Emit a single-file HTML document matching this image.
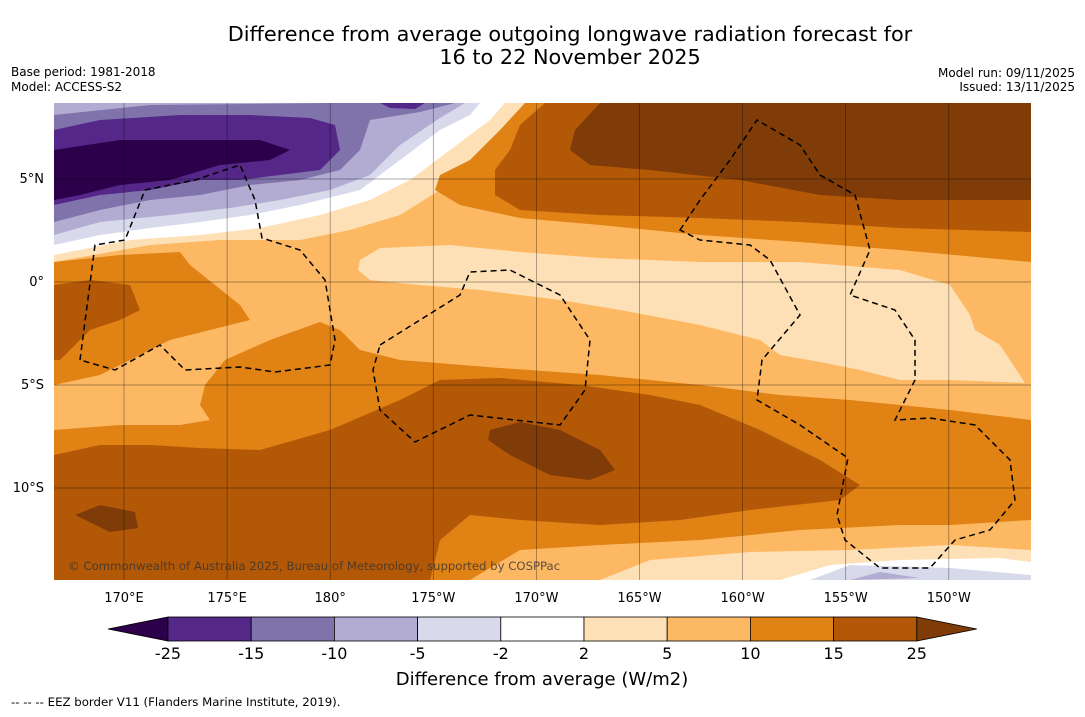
<!DOCTYPE html>
<html><head><meta charset="utf-8"><style>
body{margin:0;background:#fff;width:1085px;height:713px;overflow:hidden;font-family:"DejaVu Sans",sans-serif}
</style></head><body>
<svg width="1085" height="713" xmlns="http://www.w3.org/2000/svg" font-family="DejaVu Sans, sans-serif">
<text x="570" y="41" font-size="20.8" text-anchor="middle">Difference from average outgoing longwave radiation forecast for</text>
<text x="570" y="64" font-size="20.8" text-anchor="middle">16 to 22 November 2025</text>
<text x="11" y="76" font-size="12">Base period: 1981-2018</text>
<text x="11" y="91" font-size="12">Model: ACCESS-S2</text>
<text x="1075" y="77" font-size="12" text-anchor="end">Model run: 09/11/2025</text>
<text x="1075" y="91" font-size="12" text-anchor="end">Issued: 13/11/2025</text>
<defs><clipPath id="mc"><rect x="54" y="103" width="977" height="477"/></clipPath></defs>
<g clip-path="url(#mc)">
<rect x="54" y="103" width="977" height="477" fill="#fdb863"/>
<polygon fill="#fee0b6" points="54,103 535,103 515,130 480,160 440,190 400,215 350,230 300,240 220,240 150,245 54,262"/>
<polygon fill="#ffffff" points="54,103 505,103 490,120 450,150 410,180 370,200 320,215 260,228 200,235 130,240 54,255"/>
<polygon fill="#d8daeb" points="54,103 480,103 470,115 440,130 400,160 360,190 300,205 250,215 200,222 150,228 100,235 54,245"/>
<polygon fill="#b2abd2" points="54,103 465,103 440,118 400,145 370,175 330,190 280,200 230,208 170,215 100,222 54,235"/>
<polygon fill="#8073ac" points="54,115 150,105 330,103 455,103 420,112 370,120 360,150 340,170 300,180 250,185 200,195 150,200 100,210 54,222"/>
<polygon fill="#542788" points="54,130 100,120 180,115 250,115 310,118 335,125 340,150 320,170 280,175 240,180 200,180 150,190 100,195 54,205"/>
<polygon fill="#542788" points="380,103 425,103 415,109 390,108"/>
<polygon fill="#2d004b" points="54,150 120,140 200,140 260,140 290,150 270,160 220,165 170,180 120,185 80,195 54,200"/>
<polygon fill="#e08214" points="525,103 1031,103 1031,262 900,250 800,242 700,235 600,225 520,218 460,205 435,190 440,175 470,160 500,130"/>
<polygon fill="#b35806" points="545,103 1031,103 1031,232 900,228 800,222 700,218 600,215 520,210 495,195 495,170 510,150 520,125"/>
<polygon fill="#7f3b08" points="600,103 1031,103 1031,200 900,200 820,195 740,180 650,170 590,165 570,150 575,130"/>
<polygon fill="#fee0b6" points="360,260 380,248 450,245 520,252 600,258 700,262 800,262 900,270 950,285 970,315 975,330 1000,345 1025,383 950,380 900,380 860,370 820,362 780,355 760,340 700,325 620,310 560,300 480,290 420,285 370,280 358,270"/>
<polygon fill="#e08214" points="54,262 120,255 180,252 190,265 215,285 240,305 250,320 210,330 170,340 130,360 100,375 54,385"/>
<polygon fill="#b35806" points="54,285 90,280 130,285 140,310 120,320 90,330 60,360 54,360"/>
<polygon fill="#e08214" points="54,430 120,425 180,425 210,420 200,405 205,385 225,360 270,340 320,322 340,330 360,350 400,360 500,368 600,375 700,385 780,395 850,400 950,410 1031,420 1031,520 950,525 900,525 800,530 700,540 600,545 520,550 470,580 54,580"/>
<polygon fill="#b35806" points="54,455 100,445 150,445 200,448 260,450 330,430 400,400 440,380 500,378 580,385 650,395 700,405 760,430 820,460 860,485 840,500 750,510 680,520 600,525 520,520 470,515 440,540 430,580 54,580"/>
<polygon fill="#7f3b08" points="490,430 520,422 560,430 600,450 615,470 590,480 550,475 510,455 488,440"/>
<polygon fill="#7f3b08" points="75,515 100,505 135,512 138,528 110,532"/>
<polygon fill="#fee0b6" points="600,580 650,560 750,552 850,550 950,545 1031,550 1031,580"/>
<polygon fill="#ffffff" points="780,580 830,565 900,560 1000,558 1031,562 1031,580"/>
<polygon fill="#d8daeb" points="810,580 850,565 950,568 1031,575 1031,580"/>
<polygon fill="#b2abd2" points="850,580 880,572 920,578"/>
<g fill="none" stroke="#000" stroke-width="1.5" stroke-dasharray="6,4">
<path d="M80,360 L95,245 L125,240 L145,190 L195,180 L240,165 L255,200 L262,238 L300,250 L325,280 L335,340 L330,365 L275,372 L240,367 L185,370 L160,345 L115,370 Z"/>
<path d="M380,345 L460,295 L470,272 L510,270 L560,295 L590,340 L585,390 L560,425 L470,415 L415,442 L380,410 L373,370 Z"/>
<path d="M680,230 L700,200 L730,160 L757,120 L800,145 L820,175 L855,195 L870,250 L850,295 L895,310 L915,340 L915,380 L895,420 L930,418 L975,425 L1010,460 L1015,500 L990,530 L955,540 L930,568 L880,568 L845,540 L837,515 L848,458 L800,425 L757,400 L762,360 L800,315 L770,260 L750,245 L700,240 Z"/>
</g>
<text x="68" y="570" font-size="11.7" fill="#333" fill-opacity="0.8">© Commonwealth of Australia 2025, Bureau of Meteorology, supported by COSPPac</text>
</g>
<g id="grid"></g>
<g id="axis" font-size="13"></g>
<g id="cbar"></g>
<text x="542" y="685" font-size="18" text-anchor="middle">Difference from average (W/m2)</text>
<text x="11" y="706" font-size="11.75">--  --  -- EEZ border V11 (Flanders Marine Institute, 2019).</text>
</svg>
<script>
const lonLabels=["170°E","175°E","180°","175°W","170°W","165°W","160°W","155°W","150°W"];
const latLabels=["5°N","0°","5°S","10°S"];
const levels=["-25","-15","-10","-5","-2","2","5","10","15","25"];
const colors=["#542788","#8073ac","#b2abd2","#d8daeb","#ffffff","#fee0b6","#fdb863","#e08214","#b35806"];
const NS="http://www.w3.org/2000/svg";
function mk(t,a,p){const e=document.createElementNS(NS,t);for(const k in a)e.setAttribute(k,a[k]);p.appendChild(e);return e;}
const grid=document.getElementById('grid'),axis=document.getElementById('axis'),cb=document.getElementById('cbar');
const lonX=i=>124+i*103.1, latY=i=>179+i*103;
lonLabels.forEach((l,i)=>{const x=lonX(i);
 const g=mk('line',{x1:x,x2:x,y1:103,y2:580,stroke:'#000','stroke-opacity':0.45,'stroke-width':0.7},grid);
 
 
 const t=mk('text',{x:x,y:602,'text-anchor':'middle'},axis);t.textContent=l;
 
 });
latLabels.forEach((l,i)=>{const y=latY(i);
 const g=mk('line',{x1:54,x2:1031,y1:y,y2:y,stroke:'#000','stroke-opacity':0.45,'stroke-width':0.7},grid);
 
 
 const t=mk('text',{x:44,y:y+4,'text-anchor':'end'},axis);t.textContent=l;
 
 });
const x0=168,w=83.2,y0=617,h=24;
const lt=mk('polygon',{points:`108,${y0+h/2} ${x0},${y0} ${x0},${y0+h}`,fill:'#2d004b',stroke:'#000','stroke-width':0.8},cb);


colors.forEach((c,i)=>{const r=mk('rect',{x:x0+i*w,y:y0,width:w,height:h,fill:c,stroke:'#000','stroke-width':0.8},cb);
 
 });
const xe=x0+colors.length*w;
const rt=mk('polygon',{points:`${xe},${y0} ${xe+60},${y0+h/2} ${xe},${y0+h}`,fill:'#7f3b08',stroke:'#000','stroke-width':0.8},cb);


levels.forEach((l,i)=>{const t=mk('text',{x:x0+i*w,y:659,'text-anchor':'middle','font-size':16},cb);t.textContent=l;
 
 });
</script>
</body></html>
